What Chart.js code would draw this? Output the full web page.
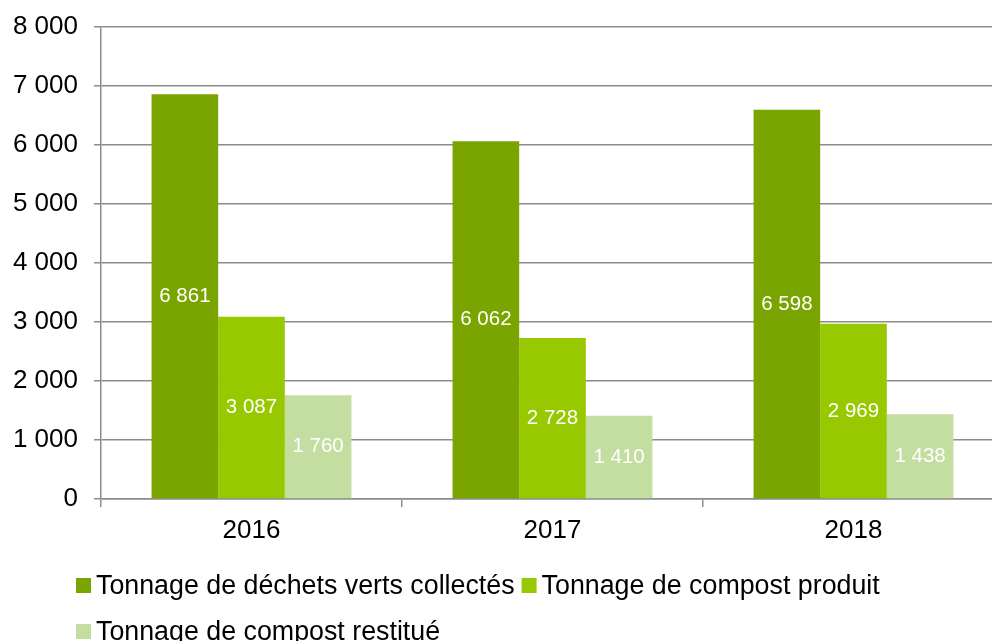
<!DOCTYPE html>
<html>
<head>
<meta charset="utf-8">
<script src="https://cdn.jsdelivr.net/npm/chart.js@4/dist/chart.umd.min.js"></script>
<style>
  html, body { margin: 0; padding: 0; background: #ffffff; overflow: hidden; }
  #wrap { width: 1010px; height: 641px; position: relative; }
</style>
</head>
<body>
<div id="wrap"><canvas id="c" width="1010" height="641"></canvas></div>
<script>
const categories = ['2016', '2017', '2018'];
const seriesNames = [
  'Tonnage de déchets verts collectés',
  'Tonnage de compost produit',
  'Tonnage de compost restitué'
];
const collectes = [6861, 6062, 6598];
const produit = [3087, 2728, 2969];
const restitue = [1760, 1410, 1438];
const yTicks = [0, 1000, 2000, 3000, 4000, 5000, 6000, 7000, 8000];

const colors = ['#7aa400', '#97c800', '#c4dda0'];
const FONT = '"Liberation Sans", Arial, sans-serif';
const GRID = '#8c8c8c';

function fmt(v) {
  return String(Math.round(v)).replace(/\B(?=(\d{3})+(?!\d))/g, ' ');
}

const valueLabels = {
  id: 'valueLabels',
  afterDatasetsDraw(chart) {
    const ctx = chart.ctx;
    ctx.save();
    ctx.font = '20.5px ' + FONT;
    ctx.fillStyle = '#ffffff';
    ctx.textAlign = 'center';
    ctx.textBaseline = 'middle';
    chart.data.datasets.forEach((ds, di) => {
      const meta = chart.getDatasetMeta(di);
      meta.data.forEach((bar, i) => {
        const y = (bar.y + bar.base) / 2;
        ctx.fillText(fmt(ds.data[i]), bar.x, y);
      });
    });
    ctx.restore();
  }
};

const customLegend = {
  id: 'customLegend',
  afterDraw(chart) {
    const ctx = chart.ctx;
    ctx.save();
    ctx.font = '26.8px ' + FONT;
    ctx.textBaseline = 'middle';
    ctx.textAlign = 'left';
    const startX = 76, box = 15, gapText = 5, gapItem = 7, rowH = 46, maxX = 985;
    let x = startX, y = 585.5;
    chart.data.datasets.forEach((ds) => {
      const w = box + gapText + ctx.measureText(ds.label).width;
      if (x !== startX && x + w > maxX) { x = startX; y += rowH; }
      ctx.fillStyle = ds.backgroundColor;
      ctx.fillRect(x, y - box / 2, box, box);
      ctx.fillStyle = '#000000';
      ctx.fillText(ds.label, x + box + gapText, y + 1);
      x += w + gapItem;
    });
    ctx.restore();
  }
};

new Chart(document.getElementById('c'), {
  type: 'bar',
  data: {
    labels: categories,
    datasets: [
      { label: seriesNames[0], data: collectes, backgroundColor: colors[0] },
      { label: seriesNames[1], data: produit, backgroundColor: colors[1] },
      { label: seriesNames[2], data: restitue, backgroundColor: colors[2] }
    ]
  },
  options: {
    responsive: false,
    animation: false,
    datasets: { bar: { categoryPercentage: 0.664, barPercentage: 1.0 } },
    layout: { padding: { left: 0, top: 27, right: 6, bottom: 80 } },
    plugins: {
      legend: { display: false },
      tooltip: { enabled: false }
    },
    scales: {
      x: {
        offset: true,
        grid: { offset: true, drawOnChartArea: false, drawTicks: true, tickLength: 8, color: GRID, lineWidth: 1.5 },
        border: { display: true, color: GRID, width: 1.5 },
        ticks: { color: '#000000', font: { family: FONT, size: 26 }, padding: 8 },
        afterFit(s) { s.height = 62; s.paddingLeft = 0; s.paddingRight = 0; }
      },
      y: {
        min: 0, max: 8000,
        afterBuildTicks(s) { s.ticks = yTicks.map(v => ({ value: v })); },
        grid: { color: GRID, lineWidth: 1.5, drawTicks: true, tickLength: 7 },
        border: { display: true, color: GRID, width: 1.5 },
        ticks: { color: '#000000', font: { family: FONT, size: 26, lineHeight: 1 }, padding: 16, callback: v => fmt(v) },
        afterFit(s) { s.width = 101; s.paddingTop = 0; s.paddingBottom = 0; }
      }
    }
  },
  plugins: [valueLabels, customLegend]
});
</script>
</body>
</html>
